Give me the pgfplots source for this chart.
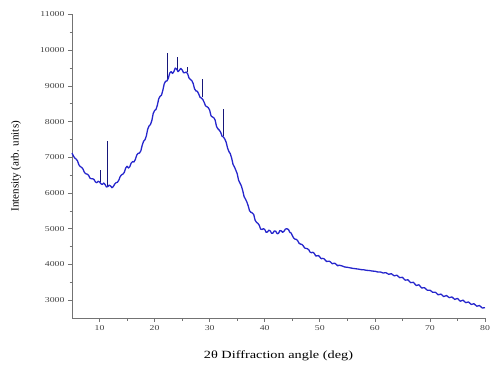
\documentclass[border=0pt]{standalone}
\usepackage{fontspec}
\setmainfont{Liberation Serif}
\newfontfamily\wide[FakeStretch=1.3]{Liberation Serif}
\usepackage{pgfplots}
\pgfplotsset{compat=1.18}
\definecolor{xrdblue}{rgb}{0.15,0.15,0.8}
\definecolor{axgray}{rgb}{0.45,0.45,0.45}
\begin{document}
\begin{tikzpicture}
\begin{axis}[
  scale only axis, width=413pt, height=303.5pt,
  xmin=5, xmax=80, ymin=2500, ymax=11000,
  axis x line*=bottom, axis y line*=left,
  axis line style={axgray, line width=0.8pt},
  xtick={10,20,...,80}, ytick={3000,4000,...,11000},
  scaled y ticks=false, scaled x ticks=false,
  minor x tick num=1, minor y tick num=1,
  tick align=outside, major tick length=4pt, minor tick length=2.5pt,
  tick style={axgray, line width=0.7pt},
  /pgf/number format/assume math mode=true,
  /pgf/number format/1000 sep={},
  ticklabel style={font=\wide\fontsize{7.5}{9}\selectfont, text=black!75},
  xlabel={2θ Diffraction angle (deg)},
  ylabel={Intensity (arb. units)},
  xlabel style={font=\wide\fontsize{11}{13}\selectfont, at={(axis description cs:0.5,0)}, anchor=center, yshift=-38pt},
  ylabel style={font=\fontsize{11}{13}\selectfont, at={(axis description cs:0,0.5)}, anchor=center, rotate=0, yshift=56pt},
  unbounded coords=jump,
  clip=false,
]
\addplot[draw=xrdblue!60!black, line width=0.6pt] coordinates {
(10.1,6300) (10.1,6650) (nan,nan)
(11.35,6210) (11.35,7450) (nan,nan)
(22.35,9200) (22.35,9920) (nan,nan)
(24.2,9450) (24.2,9800) (nan,nan)
(25.9,9380) (25.9,9520) (nan,nan)
(28.6,8680) (28.6,9200) (nan,nan)
(32.45,7600) (32.45,8350)
};
\addplot[draw=xrdblue, line width=1.3pt, line join=round] coordinates {
(5.0,7120) (5.25,7040) (5.5,6980) (5.75,6950) (6.0,6900) (6.25,6790) (6.5,6740) (6.75,6720) (7.0,6670) (7.25,6580) (7.5,6540) (7.75,6530) (8.0,6500) (8.25,6420) (8.5,6400)
(8.75,6400) (9.0,6380) (9.25,6310) (9.5,6290) (9.75,6330) (10.0,6310) (10.25,6260) (10.5,6240) (10.75,6280) (11.0,6240) (11.25,6170) (11.5,6180) (11.75,6220) (12.0,6200)
(12.25,6150) (12.5,6180) (12.75,6250) (13.0,6290) (13.25,6300) (13.5,6360) (13.75,6460) (14.0,6510) (14.25,6530) (14.5,6580) (14.75,6700) (15.0,6750) (15.25,6700) (15.5,6740)
(15.75,6840) (16.0,6880) (16.25,6870) (16.5,6940) (16.75,7060) (17.0,7110) (17.25,7120) (17.5,7180) (17.75,7340) (18.0,7450) (18.25,7490) (18.5,7600) (18.75,7790) (19.0,7880)
(19.25,7920) (19.5,8030) (19.75,8230) (20.0,8310) (20.25,8340) (20.5,8460) (20.75,8640) (21.0,8710) (21.25,8740) (21.5,8880) (21.75,9060) (22.0,9130) (22.25,9140) (22.5,9220)
(22.75,9360) (23.0,9400) (23.25,9350) (23.5,9400) (23.75,9500) (24.0,9470) (24.25,9400) (24.5,9440) (24.75,9490) (25.0,9450) (25.25,9370) (25.5,9370) (25.75,9390) (26.0,9340)
(26.25,9220) (26.5,9180) (26.75,9150) (27.0,9070) (27.25,8920) (27.5,8860) (27.75,8850) (28.0,8780) (28.25,8680) (28.5,8660) (28.75,8620) (29.0,8540) (29.25,8440) (29.5,8420)
(29.75,8390) (30.0,8320) (30.25,8160) (30.5,8130) (30.75,8110) (31.0,8040) (31.25,7860) (31.5,7800) (31.75,7760) (32.0,7700) (32.25,7590) (32.5,7570) (32.75,7510) (33.0,7420)
(33.25,7260) (33.5,7160) (33.75,7100) (34.0,6970) (34.25,6800) (34.5,6730) (34.75,6640) (35.0,6540) (35.25,6360) (35.5,6280) (35.75,6200) (36.0,6070) (36.25,5900) (36.5,5830)
(36.75,5750) (37.0,5640) (37.25,5500) (37.5,5460) (37.75,5440) (38.0,5400) (38.25,5240) (38.5,5180) (38.75,5150) (39.0,5100) (39.25,4990) (39.5,4980) (39.75,5000) (40.0,4980)
(40.25,4900) (40.5,4910) (40.75,4960) (41.0,4940) (41.25,4870) (41.5,4880) (41.75,4940) (42.0,4930) (42.25,4860) (42.5,4870) (42.75,4950) (43.0,4940) (43.25,4900) (43.5,4930)
(43.75,4990) (44.0,5000) (44.3,4980) (44.6,4890) (44.8,4880) (45.0,4810) (45.25,4740) (45.5,4710) (45.75,4700) (46.0,4660) (46.25,4590) (46.5,4570) (46.75,4560) (47.0,4520)
(47.25,4460) (47.5,4450) (47.75,4440) (48.0,4410) (48.25,4340) (48.5,4330) (48.75,4340) (49.0,4310) (49.25,4240) (49.5,4240) (49.75,4250) (50.0,4210)
(50.25,4160) (50.5,4170) (50.75,4160) (51.0,4120) (51.25,4080) (51.5,4090) (51.75,4090) (52.0,4060) (52.25,4020) (52.5,4030) (52.75,4030) (53.0,4000) (53.25,3960) (53.5,3980)
(54.0,3960) (54.5,3930) (55.0,3920) (55.5,3905) (56.0,3890) (56.5,3880) (57.0,3870)
(57.5,3855) (58.0,3850) (58.5,3835) (59.0,3830) (59.5,3815) (60.0,3810) (60.5,3790)
(61.0,3790) (61.5,3760) (62.0,3770) (62.5,3725) (63.0,3740) (63.5,3680) (64.0,3700)
(64.5,3630) (65.0,3640) (65.5,3560) (66.0,3570) (66.5,3490) (67.0,3500) (67.5,3410)
(68.0,3430) (68.5,3340) (69.0,3350) (69.5,3280) (70.0,3280) (70.5,3220) (71.0,3220)
(71.5,3150) (72.0,3170) (72.5,3100) (73.0,3130) (73.5,3070) (74.0,3090) (74.5,3020)
(75.0,3050) (75.5,2970) (76.0,3000) (76.5,2930) (77.0,2950) (77.5,2880) (78.0,2900)
(78.5,2830) (79.0,2850) (79.5,2780) (80.0,2790)
};
\end{axis}
\pgfresetboundingbox
\path[use as bounding box] ([shift={(-72pt,-51pt)}]current axis.south west) rectangle ([shift={(5pt,14.5pt)}]current axis.north east);
\end{tikzpicture}
\end{document}
